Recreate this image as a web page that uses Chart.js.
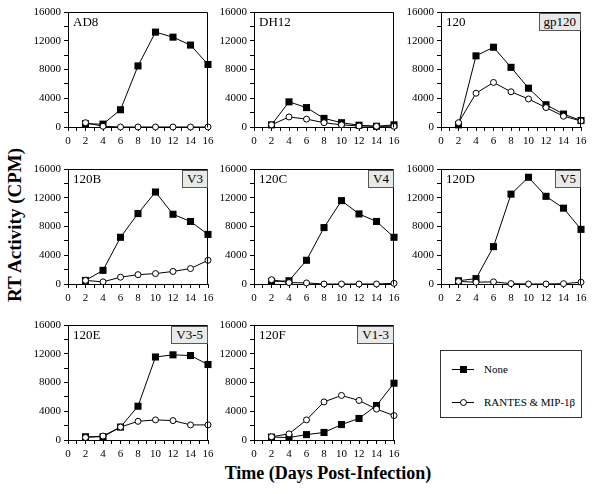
<!DOCTYPE html>
<html>
<head>
<meta charset="utf-8">
<script src="https://cdn.jsdelivr.net/npm/chart.js@4/dist/chart.umd.min.js"></script>
<style>
  html, body { margin:0; padding:0; background:#fff; }
  body { width:594px; height:494px; position:relative; overflow:hidden; font-family:"Liberation Serif", "DejaVu Serif", serif; color:#000; }
  canvas { position:absolute; }
  .plabel { position:absolute; font-size:13px; line-height:14px; white-space:nowrap; }
  .tag { position:absolute; font-size:13px; line-height:16px; height:16px; padding:0 4px; background:#e9e9e9; border:1px solid #555; white-space:nowrap; }
  .title { position:absolute; font-weight:bold; white-space:nowrap; }
  #legend { position:absolute; left:440px; top:350px; width:140px; height:66px; border:1px solid #333; background:#fff; }
  .lline { position:absolute; height:1px; background:#000; width:22px; }
  .lsq { position:absolute; width:7px; height:7px; background:#000; }
  .lci { position:absolute; width:5px; height:5px; border:1px solid #000; border-radius:50%; background:#fff; }
  .ltext { position:absolute; font-size:11px; line-height:12px; white-space:nowrap; }
</style>
</head>
<body>
<div id="legend">
  <div class="lline" style="left:11px;top:18px"></div>
  <div class="lsq" style="left:19px;top:15px"></div>
  <div class="ltext" style="left:43px;top:12px">None</div>
  <div class="lline" style="left:11px;top:51px"></div>
  <div class="lci" style="left:18.5px;top:47.5px"></div>
  <div class="ltext" style="left:43px;top:45px">RANTES &amp; MIP-1β</div>
</div>
<div class="title" style="font-size:19px;left:15px;top:225px;transform:translate(-50%,-50%) rotate(-90deg);">RT Activity (CPM)</div>
<div class="title" style="font-size:18px;left:328px;top:473px;transform:translate(-50%,-50%);">Time (Days Post-Infection)</div>
<script>
// ---- data ----
const days = [2, 4, 6, 8, 10, 12, 14, 16];
const xTickLabels = [0, 2, 4, 6, 8, 10, 12, 14, 16];
const yTickLabels = [0, 4000, 8000, 12000, 16000];
const panelNames = ['AD8', 'DH12', '120', '120B', '120C', '120D', '120E', '120F'];
const regionTags = ['', '', 'gp120', 'V3', 'V4', 'V5', 'V3-5', 'V1-3'];
const seriesNames = ['None', 'RANTES & MIP-1β'];

const noneAD8    = [450, 400, 2400, 8500, 13200, 12500, 11400, 8700];
const rantesAD8  = [600, 100, 0, 0, 0, 0, 0, 0];
const noneDH12   = [300, 3500, 2700, 1200, 600, 250, 100, 300];
const rantesDH12 = [300, 1400, 1100, 600, 300, 150, 100, 100];
const none120    = [300, 9900, 11100, 8300, 5400, 3100, 1800, 900];
const rantes120  = [600, 4700, 6200, 4900, 3900, 2700, 1500, 850];
const none120B   = [500, 1900, 6500, 9800, 12800, 9700, 8700, 6900];
const rantes120B = [500, 300, 950, 1300, 1450, 1750, 2150, 3300];
const none120C   = [350, 450, 3300, 7850, 11600, 9750, 8700, 6500];
const rantes120C = [600, 200, 150, 0, 0, 0, 0, 100];
const none120D   = [450, 750, 5200, 12500, 14850, 12200, 10550, 7600];
const rantes120D = [350, 250, 300, 50, 0, 0, 50, 250];
const none120E   = [450, 450, 1800, 4700, 11550, 11850, 11750, 10500];
const rantes120E = [350, 550, 1800, 2600, 2800, 2700, 2100, 2100];
const none120F   = [400, 350, 750, 1050, 2150, 3000, 4800, 7900];
const rantes120F = [450, 850, 2800, 5300, 6200, 5500, 4300, 3400];

const noneSeries = [noneAD8, noneDH12, none120, none120B, none120C, none120D, none120E, none120F];
const rantesSeries = [rantesAD8, rantesDH12, rantes120, rantes120B, rantes120C, rantes120D, rantes120E, rantes120F];

// ---- layout ----
const colLeft = [68, 254, 441];
const rowTop = [12, 169, 325];
const plotW = 140, plotH = 115;
const padL = 50, padT = 8, padR = 8, padB = 22;

const framePlugin = {
  id: 'frame',
  afterDatasetsDraw(chart) {
    const a = chart.chartArea, ctx = chart.ctx;
    ctx.save();
    ctx.strokeStyle = '#000';
    ctx.lineWidth = 1;
    ctx.beginPath();
    ctx.moveTo(Math.round(a.left) + 0.5, Math.round(a.top) + 0.5);
    ctx.lineTo(Math.round(a.right) - 0.5, Math.round(a.top) + 0.5);
    ctx.lineTo(Math.round(a.right) - 0.5, Math.round(a.bottom) + 0.5);
    ctx.stroke();
    ctx.restore();
  }
};

Chart.defaults.font.family = "'Liberation Serif', 'Times New Roman', serif";
const tickFont = { family: "'Liberation Serif', 'Times New Roman', serif", size: 11 };

function makePanel(i) {
  const c = i % 3, r = Math.floor(i / 3);
  const L = colLeft[c], T = rowTop[r];
  const cv = document.createElement('canvas');
  const W = plotW + padL + padR, H = plotH + padT + padB;
  cv.width = W; cv.height = H;
  cv.style.left = (L - padL) + 'px';
  cv.style.top = (T - padT) + 'px';
  cv.style.width = W + 'px'; cv.style.height = H + 'px';
  document.body.appendChild(cv);

  const mk = (arr) => days.map((d, k) => ({ x: d, y: arr[k] }));
  new Chart(cv, {
    type: 'line',
    data: {
      datasets: [
        { label: seriesNames[1], data: mk(rantesSeries[i]), borderColor: '#000', borderWidth: 1,
          pointStyle: 'circle', pointRadius: 3, pointBackgroundColor: '#fff', pointBorderColor: '#000',
          pointBorderWidth: 1, tension: 0, clip: false },
        { label: seriesNames[0], data: mk(noneSeries[i]), borderColor: '#000', borderWidth: 1,
          pointStyle: 'rect', pointRadius: 5, pointBackgroundColor: '#000', pointBorderColor: '#000',
          pointBorderWidth: 0, tension: 0, clip: false }
      ]
    },
    options: {
      responsive: false, animation: false, devicePixelRatio: 1,
      layout: { padding: { left: 0, top: padT, right: padR, bottom: 0 } },
      plugins: { legend: { display: false }, tooltip: { enabled: false } },
      scales: {
        x: {
          type: 'linear', min: 0, max: 16,
          afterBuildTicks(s) { s.ticks = []; for (let v = 0; v <= 16; v++) s.ticks.push({ value: v }); },
          afterFit(s) { s.height = padB; s.paddingLeft = 0; s.paddingRight = 0; },
          ticks: { autoSkip: false, maxRotation: 0, minRotation: 0, padding: 4, color: '#000', font: tickFont,
                   callback: (v) => xTickLabels.includes(v) ? String(v) : '' },
          grid: { display: true, drawOnChartArea: false, drawTicks: true, tickLength: 4, color: '#000', lineWidth: 1 },
          border: { display: true, color: '#000', width: 1 }
        },
        y: {
          type: 'linear', min: 0, max: 16000,
          afterBuildTicks(s) { s.ticks = []; for (let v = 0; v <= 16000; v += 2000) s.ticks.push({ value: v }); },
          afterFit(s) { s.width = padL; s.paddingTop = 0; s.paddingBottom = 0; },
          ticks: { autoSkip: false, padding: 3, color: '#000', font: tickFont,
                   callback: (v) => yTickLabels.includes(v) ? String(v) : '' },
          grid: { display: true, drawOnChartArea: false, drawTicks: true, tickLength: 4, color: '#000', lineWidth: 1 },
          border: { display: true, color: '#000', width: 1 }
        }
      }
    },
    plugins: [framePlugin]
  });

  const lab = document.createElement('div');
  lab.className = 'plabel';
  lab.textContent = panelNames[i];
  lab.style.left = (L + 5) + 'px';
  lab.style.top = (T + 3) + 'px';
  document.body.appendChild(lab);

  if (regionTags[i]) {
    const tag = document.createElement('div');
    tag.className = 'tag';
    tag.textContent = regionTags[i];
    tag.style.right = (594 - (L + plotW)) + 'px';
    tag.style.top = (T + 1) + 'px';
    document.body.appendChild(tag);
  }
}

for (let i = 0; i < 8; i++) makePanel(i);
</script>
</body>
</html>
